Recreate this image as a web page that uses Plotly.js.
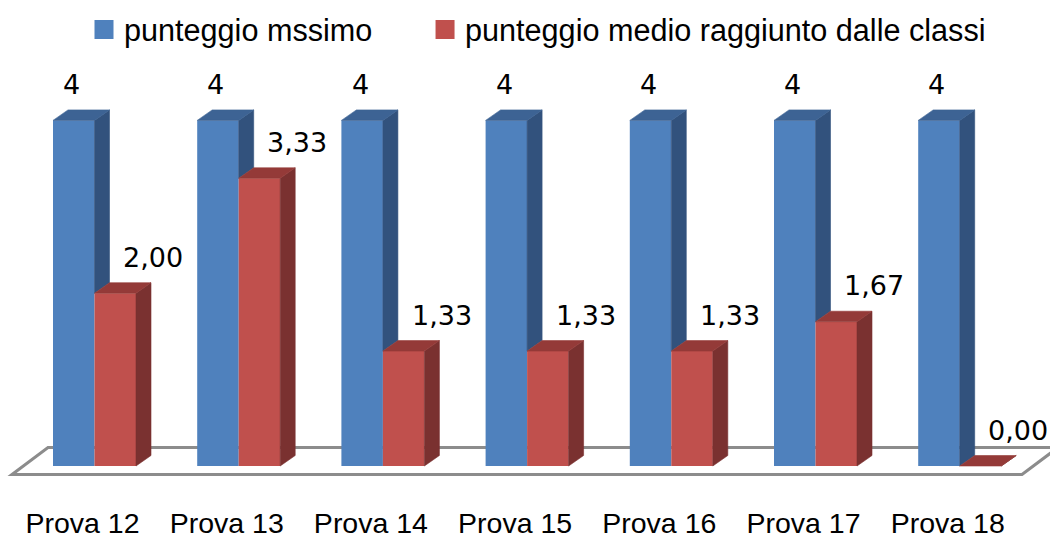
<!DOCTYPE html>
<html>
<head>
<meta charset="utf-8">
<script src="https://cdn.plot.ly/plotly-3.0.1.min.js"></script>
<style>
  html, body { margin: 0; padding: 0; background: #ffffff; }
  #chart { width: 1050px; height: 539px; }
</style>
</head>
<body>
<div id="chart"></div>
<script>
// ---- data ----
const categories = ['Prova 12', 'Prova 13', 'Prova 14', 'Prova 15', 'Prova 16', 'Prova 17', 'Prova 18'];
const maxScore = [4, 4, 4, 4, 4, 4, 4];
const avgScore = [2.00, 3.33, 1.33, 1.33, 1.33, 1.67, 0.00];
const seriesNames = ['punteggio mssimo', 'punteggio medio raggiunto dalle classi'];

// ---- style constants ----
const W = 1050, H = 539;
const M = { l: 0, r: 0, t: 0, b: 39 };
const PX_X = 144.2;          // pixels per category
const PX_Y = 86.4;           // pixels per value unit
const ZERO_PX = 466;         // pixel row of value 0
const FIRST_PX = 94.5;       // pixel column of first category centre
const xRange = [-FIRST_PX / PX_X, (W - FIRST_PX) / PX_X];
const plotH = H - M.t - M.b;
const yRange = [-(plotH - ZERO_PX) / PX_Y, ZERO_PX / PX_Y];
const BW = 41.5 / PX_X;      // bar front width
const DX = 15 / PX_X;        // depth offset x
const DY = 10.5 / PX_Y;      // depth offset y

const blue = { front: '#4F81BD', side: '#32527D', top: '#3D6394' };
const red  = { front: '#C0504D', side: '#7A3130', top: '#943A38' };

const idx = categories.map((_, i) => i);

function polys(fn) {
  const xs = [], ys = [];
  idx.forEach(i => {
    const p = fn(i);
    p.forEach(pt => { xs.push(pt[0]); ys.push(pt[1]); });
    xs.push(p[0][0]); ys.push(p[0][1]);
    xs.push(null); ys.push(null);
  });
  return { xs, ys };
}
function face(fn, color) {
  const p = polys(fn);
  return {
    type: 'scatter', mode: 'lines', x: p.xs, y: p.ys,
    fill: 'toself', fillcolor: color,
    line: { color: color, width: 0.6 },
    hoverinfo: 'skip', showlegend: false
  };
}

const traces = [
  {
    type: 'bar', x: idx, y: maxScore, width: BW, offset: -BW,
    marker: { color: blue.front, line: { width: 0 } },
    name: seriesNames[0], showlegend: false, hoverinfo: 'skip'
  },
  {
    type: 'bar', x: idx, y: avgScore, width: BW, offset: 0,
    marker: { color: red.front, line: { width: 0 } },
    name: seriesNames[1], showlegend: false, hoverinfo: 'skip'
  },
  // blue side (visible part above red bar)
  face(i => {
    const lo = Math.max(avgScore[i], 0), B = maxScore[i];
    return [[i, lo], [i, B], [i + DX, B + DY], [i + DX, lo + DY]];
  }, blue.side),
  // blue top
  face(i => {
    const B = maxScore[i];
    return [[i - BW, B], [i, B], [i + DX, B + DY], [i - BW + DX, B + DY]];
  }, blue.top),
  // red side
  face(i => {
    const R = avgScore[i];
    return [[i + BW, 0], [i + BW, R], [i + BW + DX, R + DY], [i + BW + DX, DY]];
  }, red.side),
  // red top
  face(i => {
    const R = avgScore[i];
    return [[i, R], [i + BW, R], [i + BW + DX, R + DY], [i + DX, R + DY]];
  }, red.top),
  // legend entries
  {
    type: 'scatter', mode: 'markers', x: [null], y: [null], name: seriesNames[0], legend: 'legend',
    marker: { symbol: 'square', size: 16, color: blue.front, line: { color: blue.front, width: 3 } }
  },
  {
    type: 'scatter', mode: 'markers', x: [null], y: [null], name: seriesNames[1], legend: 'legend2',
    marker: { symbol: 'square', size: 16, color: red.front, line: { color: red.front, width: 3 } }
  }
];

const fmt = v => v.toFixed(2).replace('.', ',');
const labelFont = { family: 'DejaVu Sans', size: 27, color: '#000000' };
const annotations = [];
idx.forEach(i => {
  annotations.push({
    x: i - BW / 2, y: maxScore[i], xref: 'x', yref: 'y',
    text: String(maxScore[i]), showarrow: false,
    xanchor: 'center', yanchor: 'middle', xshift: -2, yshift: 36,
    font: labelFont
  });
  annotations.push({
    x: i + BW / 2, y: avgScore[i], xref: 'x', yref: 'y',
    text: fmt(avgScore[i]), showarrow: false,
    xanchor: 'center', yanchor: 'middle', xshift: 38, yshift: 36,
    font: labelFont
  });
});

// floor (3D base plane)
const fl = { frontY: -8.5 / PX_Y, backY: 18.5 / PX_Y, leftFront: xRange[0] + 12 / PX_X, leftBack: xRange[0] + 48 / PX_X,
             rightFront: xRange[0] + 1022 / PX_X, rightBack: xRange[0] + 1058 / PX_X };
const floorPath = `M${fl.leftFront},${fl.frontY} L${fl.leftBack},${fl.backY} L${fl.rightBack},${fl.backY} L${fl.rightFront},${fl.frontY} Z`;

const legendFont = { family: 'Liberation Sans', size: 30.6, color: '#000000' };
const layout = {
  width: W, height: H,
  margin: M,
  paper_bgcolor: '#ffffff', plot_bgcolor: 'rgba(0,0,0,0)',
  barmode: 'overlay',
  showlegend: true,
  legend: {
    orientation: 'h', x: 0.08, y: 0.994, xanchor: 'left', yanchor: 'top',
    font: legendFont, bgcolor: 'rgba(0,0,0,0)'
  },
  legend2: {
    orientation: 'h', x: 0.4048, y: 0.994, xanchor: 'left', yanchor: 'top',
    font: legendFont, bgcolor: 'rgba(0,0,0,0)'
  },
  xaxis: {
    range: xRange, showgrid: false, zeroline: false, showline: false,
    tickmode: 'array', tickvals: idx.map(i => i - 12 / PX_X), ticktext: categories,
    ticks: '', ticklabelstandoff: 3,
    tickfont: { family: 'Liberation Sans', size: 28.5, color: '#000000' },
    fixedrange: true
  },
  yaxis: {
    range: yRange, showgrid: false, zeroline: false, showline: false,
    showticklabels: false, ticks: '', fixedrange: true
  },
  shapes: [{
    type: 'path', xref: 'x', yref: 'y', path: floorPath, layer: 'below',
    fillcolor: '#ffffff', line: { color: '#8C8C8C', width: 3 }
  }],
  annotations: annotations
};

Plotly.newPlot('chart', traces, layout, { displayModeBar: false, staticPlot: true });
</script>
</body>
</html>
